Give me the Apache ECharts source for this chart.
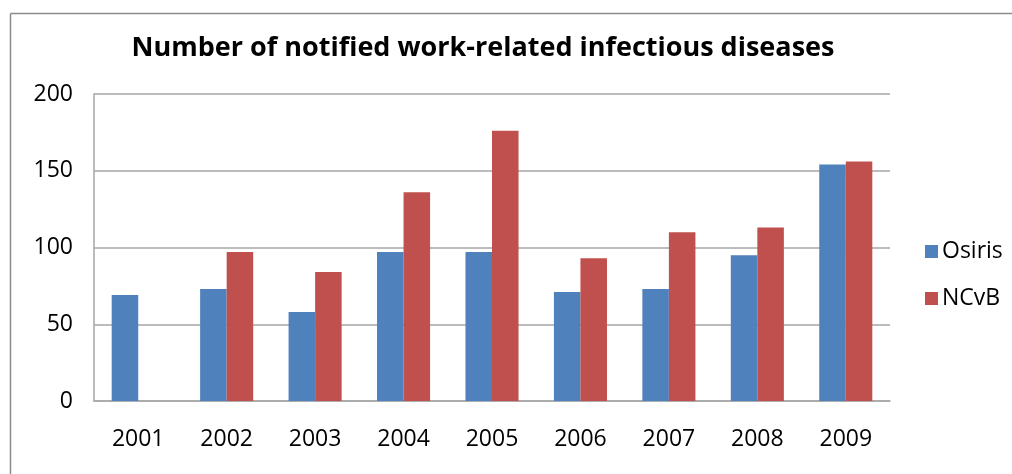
<!DOCTYPE html>
<html><head><meta charset="utf-8">
<script src="https://cdn.jsdelivr.net/npm/echarts@6/dist/echarts.min.js"></script>
<style>html,body{margin:0;padding:0;background:#fff;overflow:hidden}#c{width:1012px;height:474px}</style>
</head><body><div id="c"></div>
<script>
const categories = ['2001','2002','2003','2004','2005','2006','2007','2008','2009'];
const osiris = [69, 73, 58, 97, 97, 71, 73, 95, 154];
const ncvb = [null, 97, 84, 136, 176, 93, 110, 113, 156];
const yTicks = [0, 50, 100, 150, 200];
const FONT = '"Open Sans", "Noto Sans", sans-serif';
const chart = echarts.init(document.getElementById('c'), null, {renderer:'canvas'});
chart.setOption({
  animation: false,
  backgroundColor: '#fff',
  title: {
    text: 'Number of notified work-related infectious diseases',
    left: 478, top: 30, textAlign: 'center',
    textStyle: {fontFamily: FONT, fontWeight: 'bold', fontSize: 27, color: '#000'}
  },
  graphic: [
    {type: 'line', shape: {x1: 10.5, y1: 13.5, x2: 1012, y2: 13.5},
      style: {stroke: '#8c8c8c', lineWidth: 1.5}, silent: true},
    {type: 'line', shape: {x1: 10.5, y1: 13.5, x2: 10.5, y2: 474},
      style: {stroke: '#8c8c8c', lineWidth: 1.5}, silent: true}
  ],
  legend: {
    orient: 'vertical', left: 920, top: 235, itemGap: 24,
    itemWidth: 13, itemHeight: 13, icon: 'rect',
    textStyle: {fontFamily: FONT, fontSize: 23, color: '#000', padding: [0,0,0,-1]},
    data: ['Osiris', 'NCvB']
  },
  grid: {left: 94, right: 122, top: 94, bottom: 73, containLabel: false},
  xAxis: {
    type: 'category', data: categories,
    axisLine: {lineStyle: {color: '#a6a6a6', width: 1.5}},
    axisTick: {show: false},
    axisLabel: {fontFamily: FONT, fontSize: 23, color: '#000', margin: 27}
  },
  yAxis: {
    type: 'value', min: 0, max: 200, interval: 50,
    axisLine: {show: true, lineStyle: {color: '#a6a6a6', width: 1.5}},
    axisTick: {show: false},
    splitLine: {lineStyle: {color: '#a6a6a6', width: 1.5}},
    axisLabel: {fontFamily: FONT, fontSize: 23, color: '#000', margin: 21,
      formatter: v => yTicks.includes(v) ? String(v) : ''}
  },
  series: [
    {name: 'Osiris', type: 'bar', data: osiris, barGap: '0%', barCategoryGap: '40%',
      itemStyle: {color: '#4F81BD'}},
    {name: 'NCvB', type: 'bar', data: ncvb, barGap: '0%', barCategoryGap: '40%',
      itemStyle: {color: '#C0504D'}}
  ]
});
</script></body></html>
